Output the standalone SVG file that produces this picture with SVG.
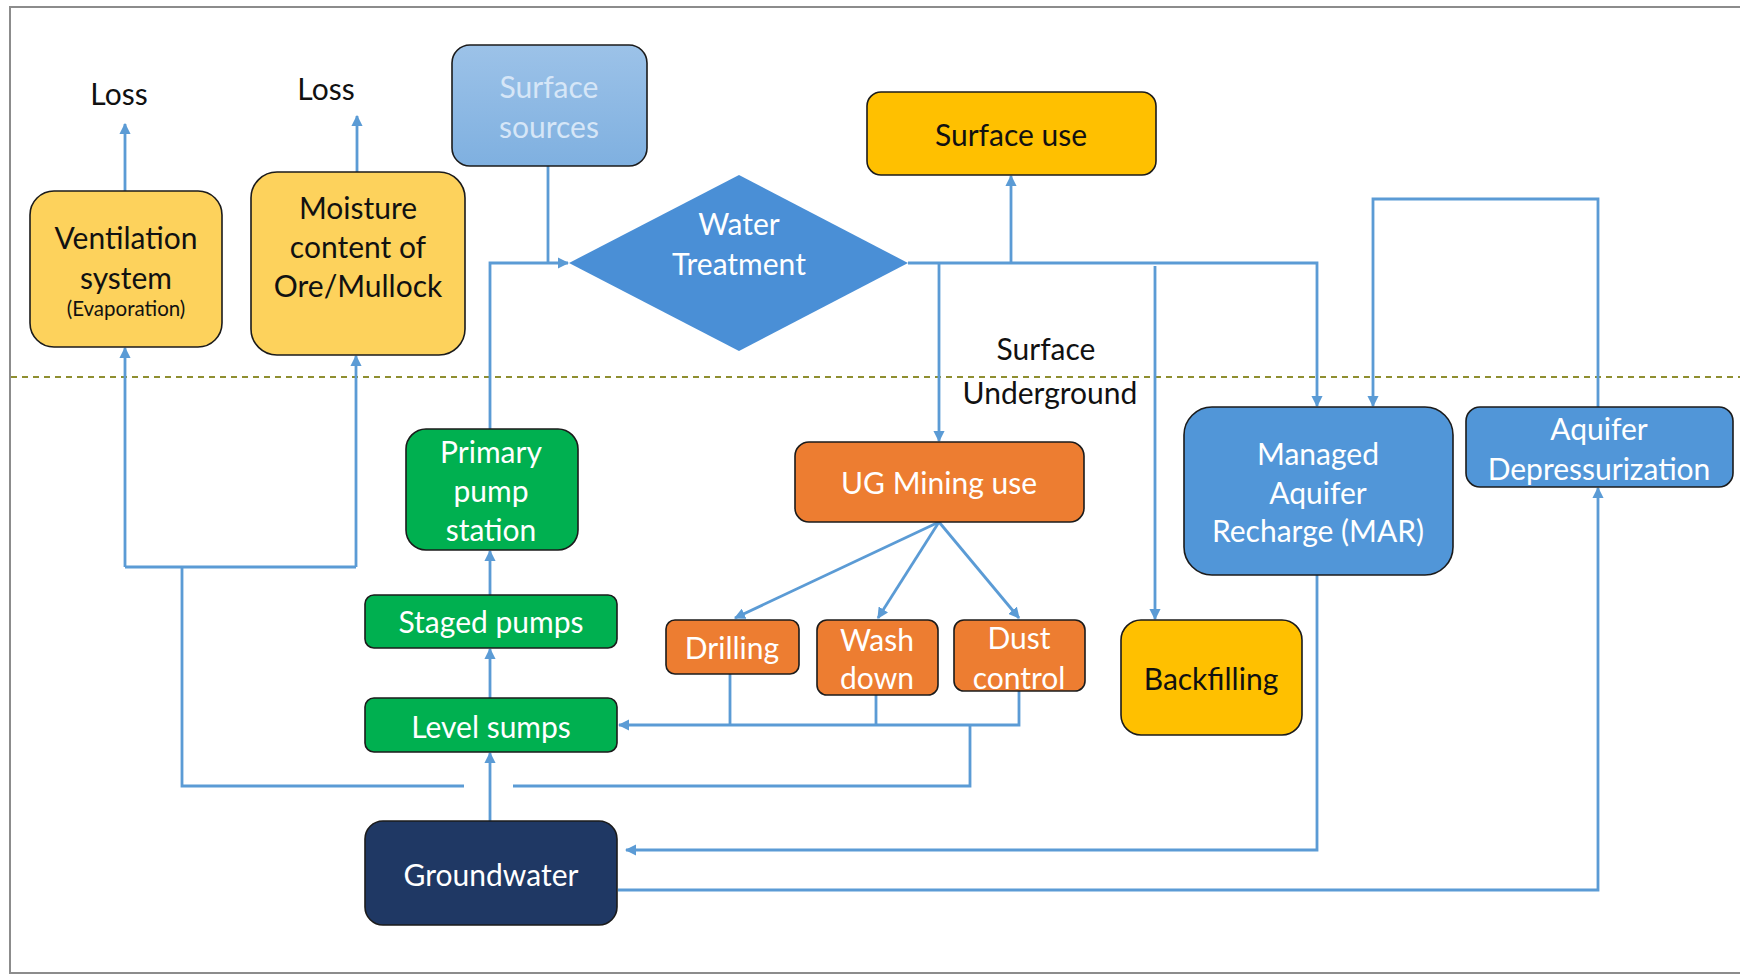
<svg xmlns="http://www.w3.org/2000/svg" width="1740" height="975" viewBox="0 0 1740 975">
  <defs>
    <marker id="arr" viewBox="0 0 10 10" refX="9" refY="5" markerWidth="4" markerHeight="4" orient="auto-start-reverse">
      <path d="M0,0 L10,5 L0,10 z" fill="#5b9bd5"/>
    </marker>
    <linearGradient id="srcFill" x1="0" y1="0" x2="0" y2="1">
      <stop offset="0" stop-color="#9cc2e8"/>
      <stop offset="1" stop-color="#7fb0e0"/>
    </linearGradient>
    <style>
      .lbl { font-family: Lato, "Liberation Sans", sans-serif; font-size: 30px; text-anchor: middle; dominant-baseline: central; }
      .dark { fill: #111; }
      .light { fill: #ffffff; }
      .box { stroke: #1b1b1b; stroke-width: 1.6; }
      .yellow { fill: #fdd25c; }
      .amber { fill: #ffc000; }
      .green { fill: #00b050; }
      .orange { fill: #ed7d31; }
      .blue { fill: #5196d8; }
      .navy { fill: #1f3864; }
      .conn { fill: none; stroke: #5b9bd5; stroke-width: 2.8; }
    </style>
  </defs>

  <rect width="1740" height="975" fill="#ffffff"/>
  <!-- outer frame -->
  <rect x="10" y="7" width="1760" height="966" fill="none" stroke="#8c8c8c" stroke-width="2"/>

  <!-- surface / underground divider -->
  <line x1="11" y1="377" x2="1740" y2="377" stroke="#8f8f30" stroke-width="1.8" stroke-dasharray="6,5"/>
  <text class="lbl dark" x="1046" y="348">Surface</text>
  <text class="lbl dark" x="1050" y="392">Underground</text>

  <!-- loss labels -->
  <text class="lbl dark" x="119" y="93">Loss</text>
  <text class="lbl dark" x="326" y="88">Loss</text>

  <g id="connectors">
    <!-- evaporation and moisture losses -->
    <path class="conn" d="M125,191 V124" marker-end="url(#arr)"/>
    <path class="conn" d="M357,172 V116" marker-end="url(#arr)"/>
    <!-- surface sources and primary pump to treatment -->
    <path class="conn" d="M548,166 V263"/>
    <path class="conn" d="M490,429 V263 H568" marker-end="url(#arr)"/>
    <!-- treatment outflows -->
    <path class="conn" d="M908,263 H1317 V406" marker-end="url(#arr)"/>
    <path class="conn" d="M1011,263 V176" marker-end="url(#arr)"/>
    <path class="conn" d="M939,263 V441" marker-end="url(#arr)"/>
    <path class="conn" d="M1155,266 V619" marker-end="url(#arr)"/>
    <!-- depressurization to MAR -->
    <path class="conn" d="M1598,407 V199 H1373 V406" marker-end="url(#arr)"/>
    <!-- groundwater to depressurization -->
    <path class="conn" d="M618,890 H1598 V488" marker-end="url(#arr)"/>
    <!-- MAR back to groundwater -->
    <path class="conn" d="M1317,575 V850 H626" marker-end="url(#arr)"/>
    <!-- pumping chain -->
    <path class="conn" d="M490,821 V753" marker-end="url(#arr)"/>
    <path class="conn" d="M490,698 V649" marker-end="url(#arr)"/>
    <path class="conn" d="M490,595 V551" marker-end="url(#arr)"/>
    <!-- mining uses draining to level sumps -->
    <path class="conn" d="M1019,691 V725 H619" marker-end="url(#arr)"/>
    <path class="conn" d="M730,674 V725"/>
    <path class="conn" d="M876,695 V725"/>
    <!-- losses fed from underground -->
    <path class="conn" d="M970,725 V786 H513"/>
    <path class="conn" d="M464,786 H182 V567"/>
    <path class="conn" d="M125,567 H356"/>
    <path class="conn" d="M125,567 V348" marker-end="url(#arr)"/>
    <path class="conn" d="M356,567 V356" marker-end="url(#arr)"/>
    <!-- UG mining split -->
    <path class="conn" d="M939,522 L735,618" marker-end="url(#arr)"/>
    <path class="conn" d="M939,522 L878,618" marker-end="url(#arr)"/>
    <path class="conn" d="M939,522 L1019,618" marker-end="url(#arr)"/>
  </g>

  <g id="ventilation">
    <rect class="box yellow" x="30" y="191" width="192" height="156" rx="24"/>
    <text class="lbl dark" x="126" y="237">Ventilation</text>
    <text class="lbl dark" x="126" y="277">system</text>
    <text class="lbl dark" x="126" y="308" style="font-size:20.5px">(Evaporation)</text>
  </g>

  <g id="moisture">
    <rect class="box yellow" x="251" y="172" width="214" height="183" rx="26"/>
    <text class="lbl dark" x="358" y="207">Moisture</text>
    <text class="lbl dark" x="358" y="246">content of</text>
    <text class="lbl dark" x="358" y="285">Ore/Mullock</text>
  </g>

  <g id="surface-sources">
    <rect x="452" y="45" width="195" height="121" rx="18" fill="url(#srcFill)" stroke="#1b1b1b" stroke-width="1.6"/>
    <text class="lbl" x="549" y="86" fill="#d6e6f7">Surface</text>
    <text class="lbl" x="549" y="126" fill="#d6e6f7">sources</text>
  </g>

  <g id="surface-use">
    <rect class="box amber" x="867" y="92" width="289" height="83" rx="14"/>
    <text class="lbl dark" x="1011" y="134">Surface use</text>
  </g>

  <g id="water-treatment">
    <polygon points="569,263 739,175 908,263 739,351" fill="#4a8fd6"/>
    <text class="lbl light" x="739" y="223">Water</text>
    <text class="lbl light" x="739" y="263">Treatment</text>
  </g>

  <g id="primary-pump">
    <rect class="box green" x="406" y="429" width="172" height="121" rx="20"/>
    <text class="lbl light" x="491" y="451">Primary</text>
    <text class="lbl light" x="491" y="490">pump</text>
    <text class="lbl light" x="491" y="529">station</text>
  </g>

  <g id="staged-pumps">
    <rect class="box green" x="365" y="595" width="252" height="53" rx="9"/>
    <text class="lbl light" x="491" y="621">Staged pumps</text>
  </g>

  <g id="level-sumps">
    <rect class="box green" x="365" y="698" width="252" height="54" rx="9"/>
    <text class="lbl light" x="491" y="726">Level sumps</text>
  </g>

  <g id="groundwater">
    <rect class="box navy" x="365" y="821" width="252" height="104" rx="18"/>
    <text class="lbl light" x="491" y="874">Groundwater</text>
  </g>

  <g id="ug-mining">
    <rect class="box orange" x="795" y="442" width="289" height="80" rx="14"/>
    <text class="lbl light" x="939" y="482">UG Mining use</text>
  </g>

  <g id="drilling">
    <rect class="box orange" x="666" y="620" width="133" height="54" rx="9"/>
    <text class="lbl light" x="732" y="647">Drilling</text>
  </g>

  <g id="wash-down">
    <rect class="box orange" x="817" y="620" width="121" height="75" rx="10"/>
    <text class="lbl light" x="877" y="639">Wash</text>
    <text class="lbl light" x="877" y="677">down</text>
  </g>

  <g id="dust-control">
    <rect class="box orange" x="954" y="620" width="131" height="71" rx="10"/>
    <text class="lbl light" x="1019" y="637">Dust</text>
    <text class="lbl light" x="1019" y="677">control</text>
  </g>

  <g id="backfilling">
    <rect class="box amber" x="1121" y="620" width="181" height="115" rx="20"/>
    <text class="lbl dark" x="1211" y="678">Backfilling</text>
  </g>

  <g id="mar">
    <rect class="box blue" x="1184" y="407" width="269" height="168" rx="28"/>
    <text class="lbl light" x="1318" y="453">Managed</text>
    <text class="lbl light" x="1318" y="492">Aquifer</text>
    <text class="lbl light" x="1318" y="530">Recharge (MAR)</text>
  </g>

  <g id="aquifer-depressurization">
    <rect class="box blue" x="1466" y="407" width="267" height="80" rx="14"/>
    <text class="lbl light" x="1599" y="428">Aquifer</text>
    <text class="lbl light" x="1599" y="468">Depressurization</text>
  </g>
</svg>
